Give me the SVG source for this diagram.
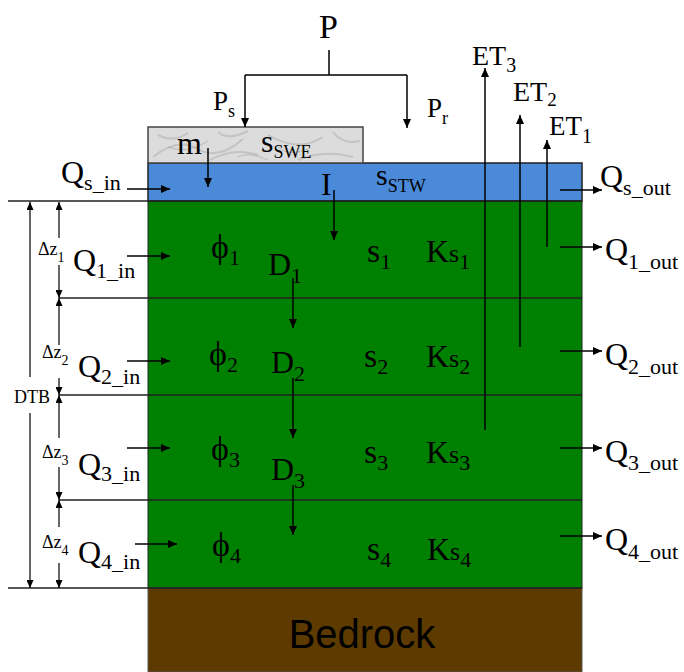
<svg xmlns="http://www.w3.org/2000/svg" width="684" height="672" viewBox="0 0 684 672">
<style>
.t{font-family:"Liberation Serif","Times New Roman",serif;fill:#000}
.m{font-size:32px}
.sub{font-size:22px}
.ln{stroke:#000;stroke-width:1.5;fill:none}
.arr{stroke:#000;stroke-width:1.5;fill:none;marker-end:url(#ah)}
.dim{stroke:#000;stroke-width:1.2;fill:none;marker-end:url(#dh)}
.bd{stroke:#222;stroke-width:1.5;fill:none}
</style>
<defs>
<marker id="ah" markerUnits="userSpaceOnUse" markerWidth="9" markerHeight="8" refX="9" refY="4" orient="auto"><path d="M0,0 L9,4 L0,8 z" fill="#000"/></marker>
<marker id="dh" markerUnits="userSpaceOnUse" markerWidth="8" markerHeight="7" refX="8" refY="3.5" orient="auto"><path d="M0,0 L8,3.5 L0,7 z" fill="#000"/></marker>
<pattern id="snow" patternUnits="userSpaceOnUse" width="215" height="36" x="148" y="127">
<rect width="215" height="36" fill="#dcdcdc"/>
<path d="M5,30 Q30,10 50,22 T95,12 M60,34 Q85,20 110,28 M120,8 Q150,26 175,10 M150,33 Q175,22 205,30 M10,8 Q25,16 40,6 M185,5 Q195,18 212,14 M70,5 Q80,14 100,4" stroke="#b8b8b8" stroke-width="2" fill="none" opacity="0.7"/>
<path d="M20,20 Q40,28 60,14 M130,20 Q140,30 160,22 M90,30 Q100,24 120,33" stroke="#a0a0a0" stroke-width="1" fill="none" opacity="0.6"/>
</pattern>
</defs>

<g id="bedrock">
<rect x="148" y="588" width="434" height="84" fill="#5c3a00" stroke="#555" stroke-width="1"/>
<text x="362" y="648" text-anchor="middle" font-family="Liberation Sans, Arial, sans-serif" font-size="40" fill="#000">Bedrock</text>
</g>
<g id="soil">
<rect x="148" y="201" width="434" height="387" fill="#008000" stroke="#222" stroke-width="1"/>
</g>
<g id="surface-water">
<rect x="148" y="163" width="434" height="38" fill="#4a8ad8" stroke="#222" stroke-width="1.5"/>
</g>
<g id="snow">
<rect x="148" y="127" width="215" height="36" fill="url(#snow)" stroke="#444" stroke-width="1.5"/>
</g>

<g id="boundaries">
<path class="bd" d="M8,201 H582 M59,298 H582 M59,395 H582 M59,500 H582 M8,588 H582"/>
</g>

<g id="connectors">
<path class="ln" d="M329,50 V75 M245,75 H407"/>
<path class="arr" d="M245,75 V127"/>
<path class="arr" d="M407,75 V128"/>
<path class="arr" d="M208,148 V187"/>
<path class="arr" d="M334,190 V240"/>
<path class="arr" d="M293,278 V328"/>
<path class="arr" d="M293,378 V438"/>
<path class="arr" d="M293,485 V535"/>
<path class="arr" d="M485,430 V68"/>
<path class="arr" d="M520,347 V115"/>
<path class="arr" d="M547,247 V140"/>
<path class="arr" d="M127,189 H170"/>
<path class="arr" d="M127,256 H170"/>
<path class="arr" d="M127,361 H170"/>
<path class="arr" d="M127,448 H170"/>
<path class="arr" d="M135,544 H177"/>
<path class="arr" d="M560,190 H602"/>
<path class="arr" d="M560,247 H602"/>
<path class="arr" d="M560,351 H602"/>
<path class="arr" d="M560,448 H602"/>
<path class="arr" d="M560,536 H602"/>
<path class="dim" d="M30,377 V202"/>
<path class="dim" d="M30,413 V588"/>
<path class="dim" d="M59,238 V202"/>
<path class="dim" d="M59,265 V298"/>
<path class="dim" d="M59,345 V298"/>
<path class="dim" d="M59,378 V395"/>
<path class="dim" d="M59,438 V395"/>
<path class="dim" d="M59,467 V500"/>
<path class="dim" d="M59,527 V500"/>
<path class="dim" d="M59,563 V588"/>
</g>

<g id="labels">
<text class="t" x="319" y="38" font-size="34">P</text>
<text class="t" x="213" y="110" font-size="27">P<tspan font-size="18" dy="7">s</tspan></text>
<text class="t" x="427" y="117" font-size="27">P<tspan font-size="18" dy="7">r</tspan></text>
<text class="t m" x="177" y="154">m</text>
<text class="t" x="261" y="152" font-size="32">s<tspan font-size="18" dy="6">SWE</tspan></text>
<text class="t m" x="321" y="195">I</text>
<text class="t" x="376" y="185" font-size="30">s<tspan font-size="18" dy="7">STW</tspan></text>
<text class="t" x="472" y="65" font-size="28">ET<tspan font-size="20" dy="7">3</tspan></text>
<text class="t" x="513" y="101" font-size="28">ET<tspan font-size="19" dy="5">2</tspan></text>
<text class="t" x="549" y="135" font-size="27">ET<tspan font-size="20" dy="8">1</tspan></text>

<text class="t m" x="61" y="183">Q<tspan class="sub" dy="7">s_in</tspan></text>
<text class="t m" x="73" y="271">Q<tspan class="sub" dy="7">1_in</tspan></text>
<text class="t m" x="78" y="377">Q<tspan class="sub" dy="7">2_in</tspan></text>
<text class="t m" x="78" y="475">Q<tspan class="sub" dy="6">3_in</tspan></text>
<text class="t m" x="78" y="563">Q<tspan class="sub" dy="6">4_in</tspan></text>

<text class="t m" x="600" y="187">Q<tspan class="sub" dy="8">s_out</tspan></text>
<text class="t m" x="605" y="260">Q<tspan class="sub" dy="9">1_out</tspan></text>
<text class="t m" x="605" y="365">Q<tspan class="sub" dy="9">2_out</tspan></text>
<text class="t m" x="605" y="462">Q<tspan class="sub" dy="8">3_out</tspan></text>
<text class="t m" x="605" y="550">Q<tspan class="sub" dy="9">4_out</tspan></text>

<text class="t" x="38" y="255" font-size="18">Δz<tspan font-size="14" dy="7">1</tspan></text>
<text class="t" x="42" y="358" font-size="18">Δz<tspan font-size="14" dy="7">2</tspan></text>
<text class="t" x="42" y="458" font-size="18">Δz<tspan font-size="14" dy="7">3</tspan></text>
<text class="t" x="42" y="548" font-size="18">Δz<tspan font-size="14" dy="7">4</tspan></text>
<text class="t" x="14" y="403" font-size="18">DTB</text>

<text class="t" x="211" y="258" font-size="34">ϕ<tspan class="sub" dy="7">1</tspan></text>
<text class="t" x="209" y="365" font-size="34">ϕ<tspan class="sub" dy="7">2</tspan></text>
<text class="t" x="211" y="460" font-size="34">ϕ<tspan class="sub" dy="7">3</tspan></text>
<text class="t" x="212" y="556" font-size="34">ϕ<tspan class="sub" dy="7">4</tspan></text>

<text class="t m" x="268" y="275">D<tspan class="sub" dy="8">1</tspan></text>
<text class="t m" x="271" y="373">D<tspan class="sub" dy="8">2</tspan></text>
<text class="t m" x="271" y="480">D<tspan class="sub" dy="8">3</tspan></text>

<text class="t" x="367" y="262" font-size="34">s<tspan class="sub" dy="7">1</tspan></text>
<text class="t" x="364" y="367" font-size="34">s<tspan class="sub" dy="7">2</tspan></text>
<text class="t" x="364" y="463" font-size="34">s<tspan class="sub" dy="7">3</tspan></text>
<text class="t" x="367" y="560" font-size="34">s<tspan class="sub" dy="7">4</tspan></text>

<text class="t" x="426" y="262" font-size="32">K<tspan font-size="26">s</tspan><tspan class="sub" dy="7">1</tspan></text>
<text class="t" x="426" y="367" font-size="32">K<tspan font-size="26">s</tspan><tspan class="sub" dy="7">2</tspan></text>
<text class="t" x="426" y="463" font-size="32">K<tspan font-size="26">s</tspan><tspan class="sub" dy="7">3</tspan></text>
<text class="t" x="427" y="560" font-size="32">K<tspan font-size="26">s</tspan><tspan class="sub" dy="7">4</tspan></text>
</g>
</svg>
